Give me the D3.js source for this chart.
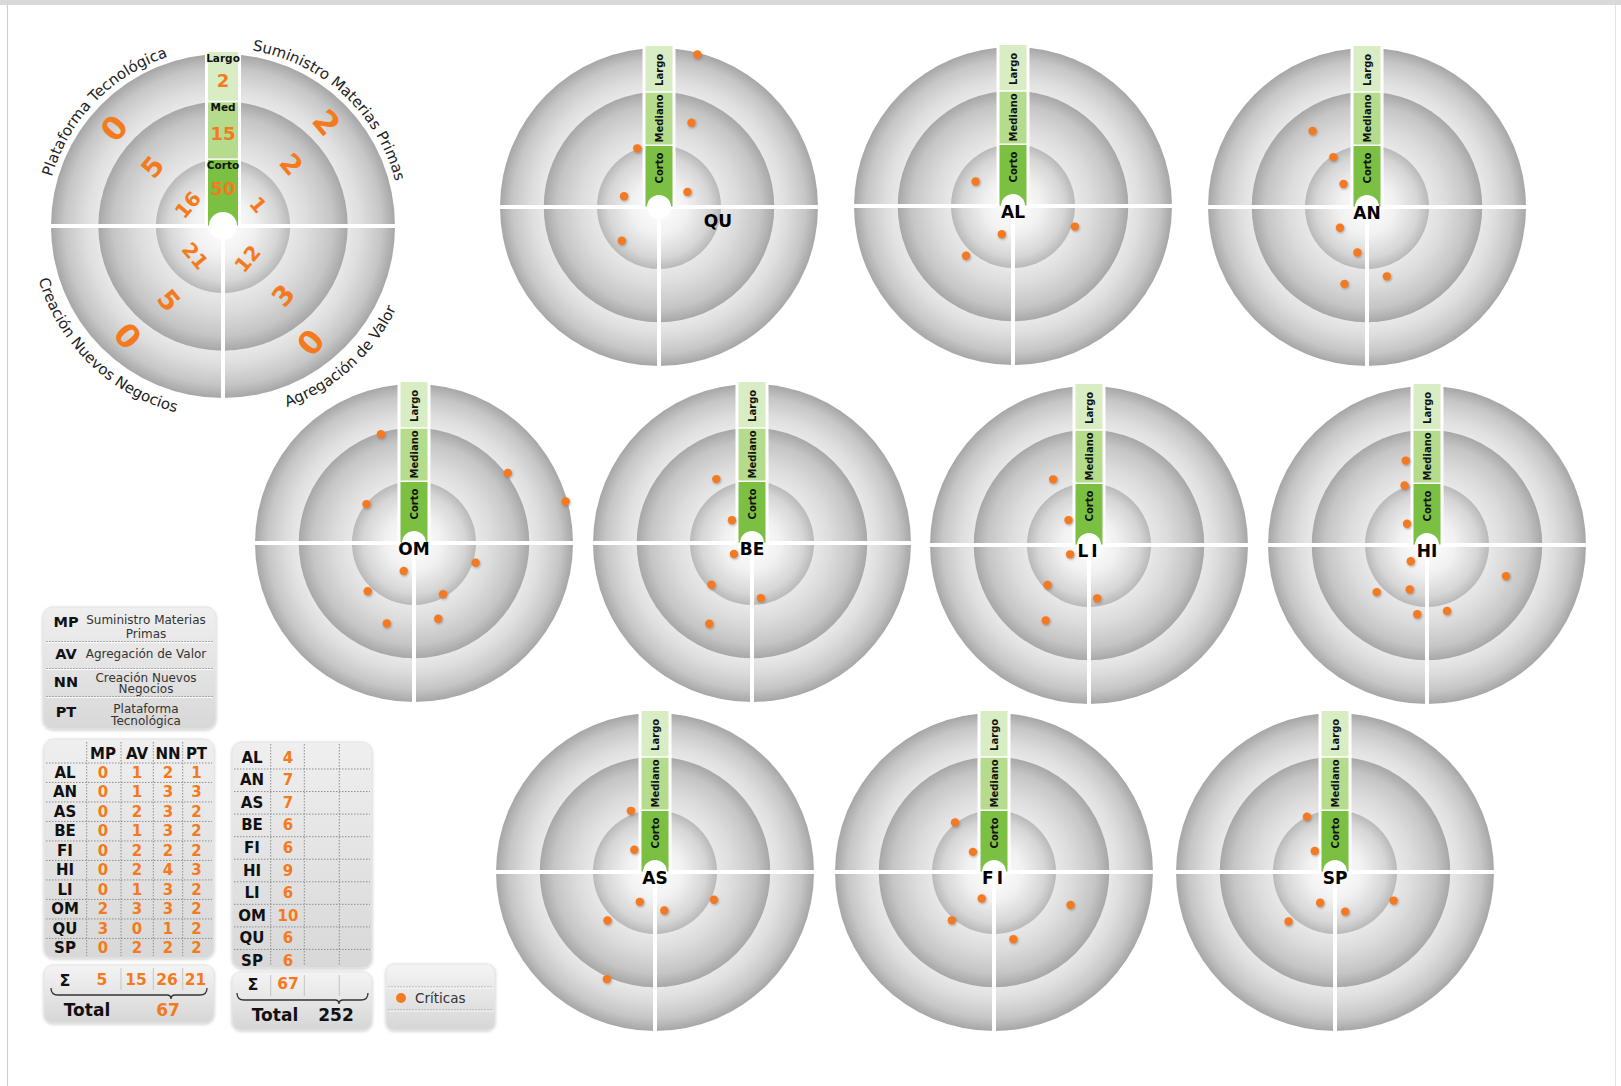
<!DOCTYPE html>
<html><head><meta charset="utf-8">
<script src="https://cdn.jsdelivr.net/npm/d3@7"></script>
<style>
html,body{margin:0;padding:0;background:#fff;}
svg{display:block;font-family:"DejaVu Sans",Verdana,sans-serif;}
</style></head><body>
<svg id="chart" width="1621" height="1086"></svg>
<script>
// ---------------- DATA ----------------
const categories = ["MP","AV","NN","PT"];
const categoryNames = ["Suministro Materias Primas","Agregación de Valor","Creación Nuevos Negocios","Plataforma Tecnológica"];
const categoryNameLines = [["Suministro Materias","Primas"],["Agregación de Valor"],["Creación Nuevos","Negocios"],["Plataforma","Tecnológica"]];
const horizons = ["Corto","Mediano","Largo"];
const horizonShort = ["Corto","Med","Largo"];
const horizonTotals = [50,15,2];
const summaryCorto = [1,12,21,16];
const summaryMediano = [2,3,5,5];
const summaryLargo = [2,0,0,0];

const units = ["AL","AN","AS","BE","FI","HI","LI","OM","QU","SP"];
const countMP = [0,0,0,0,0,0,0,2,3,0];
const countAV = [1,1,2,1,2,2,1,3,0,2];
const countNN = [2,3,3,3,2,4,3,3,1,2];
const countPT = [1,3,2,2,2,3,2,2,2,2];
const sumByCategory = [5,15,26,21];
const totalCategory = 67;
const criticas = [4,7,7,6,6,9,6,10,6,6];
const sumCriticas = 67;
const totalGeneral = 252;
const legendLabel = "Críticas";

// Critical points per unit: [angle in degrees clockwise from top, horizon level (0-1 Corto, 1-2 Mediano, 2-3 Largo)]
const radarOrder = ["QU","AL","AN","OM","BE","LI","HI","AS","FI","SP"];
const dotsQU = [[14.1,2.96],[21.1,1.53],[339.7,1.01],[62.1,0.52],[287.1,0.59],[227.7,0.81]];
const dotsAL = [[303.2,0.72],[201.6,0.49],[108.4,1.06],[223.3,1.12]];
const dotsAN = [[324.4,1.59],[326,0.97],[314.4,0.53],[232.5,0.55],[191.9,0.75],[164,1.19],[196.3,1.34]];
const dotsOM = [[343.1,1.97],[53.3,2.04],[74.7,2.96],[309.3,0.99],[107.7,1.05],[200.2,0.48],[223.8,1.09],[150.4,0.95],[198.7,1.43],[162.3,1.33]];
const dotsBE = [[330.8,1.21],[318.7,0.49],[238.7,0.34],[224.2,0.94],[170.9,0.9],[207.9,1.55]];
const dotsLI = [[331.4,1.24],[320.6,0.52],[243.7,0.34],[226,0.93],[171.3,0.87],[209.8,1.47]];
const dotsHI = [[345.9,1.47],[339.4,1.03],[316.8,0.47],[225,0.37],[201.2,0.77],[226.9,1.13],[188,1.15],[163.1,1.13],[111.5,1.43]];
const dotsAS = [[338.5,1.07],[317.1,0.49],[207,0.54],[166.4,0.64],[115.2,1.06],[224.4,1.11],[204.2,2.05]];
const dotsFI = [[321.8,1.02],[313.7,0.47],[204.9,0.47],[113.3,1.4],[221.1,1.04],[163.9,1.15]];
const dotsSP = [[333.1,1.0],[316.1,0.47],[205.8,0.55],[165.6,0.66],[116,1.06],[223.2,1.11]];
const dotsByUnit = {QU:dotsQU,AL:dotsAL,AN:dotsAN,OM:dotsOM,BE:dotsBE,LI:dotsLI,HI:dotsHI,AS:dotsAS,FI:dotsFI,SP:dotsSP};

// ---------------- LAYOUT ----------------
const layout = {
  centers: {QU:[659,207],AL:[1013,206],AN:[1367,207],OM:[414,543],BE:[752,543],LI:[1089,545],HI:[1427,545],AS:[655,872],FI:[994,872],SP:[1335,872]},
  R: 159, hole: 12, barW: 27,
  summary: {cx:223, cy:226, R:172, hole:14, barW:30},
  ringRatios: [0.39, 0.725, 1]
};
const ORANGE = "#f47a20";
const GREENS = ["#7bc043","#b5db8d","#d9edc5"];

const svg = d3.select("#chart");
const defs = svg.append("defs");
function radial(id, stops){
  const g = defs.append("radialGradient").attr("id",id).attr("cx","50%").attr("cy","50%").attr("r","50%");
  stops.forEach(([o,c])=>g.append("stop").attr("offset",o).attr("stop-color",c));
}
radial("gOuter", [[0.725,"#e8e8e8"],[0.8,"#dedede"],[0.92,"#c6c6c6"],[1,"#a6a6a6"]]);
radial("gMid", [[0.535,"#e8e8e8"],[0.68,"#dcdcdc"],[0.88,"#c5c5c5"],[1,"#a7a7a7"]]);
radial("gInner", [[0,"#ffffff"],[0.45,"#f1f1f1"],[0.82,"#d6d6d6"],[1,"#b9b9b9"]]);
function linear(id, c0, c1){
  const g = defs.append("linearGradient").attr("id",id).attr("x1",0).attr("y1",0).attr("x2",0).attr("y2",1);
  g.append("stop").attr("offset",0).attr("stop-color",c0);
  g.append("stop").attr("offset",1).attr("stop-color",c1);
}
linear("gBox","#efefef","#d8d8d8");
linear("gBox2","#f4f4f4","#d6d6d6");
const f = defs.append("filter").attr("id","dshadow").attr("x","-50%").attr("y","-50%").attr("width","200%").attr("height","200%");
f.append("feDropShadow").attr("dx",0.8).attr("dy",1.2).attr("stdDeviation",1).attr("flood-color","#555").attr("flood-opacity",0.45);
const fb = defs.append("filter").attr("id","boxshadow").attr("x","-10%").attr("y","-10%").attr("width","120%").attr("height","120%");
fb.append("feDropShadow").attr("dx",0).attr("dy",1).attr("stdDeviation",1.5).attr("flood-color","#999").attr("flood-opacity",0.5);

// page frame
svg.append("rect").attr("x",0).attr("y",0).attr("width",1621).attr("height",5).attr("fill","#d9d9d9");
svg.append("line").attr("x1",7.5).attr("x2",7.5).attr("y1",5).attr("y2",1086).attr("stroke","#cfcfcf").attr("stroke-width",1.2);
svg.append("line").attr("x1",1615.5).attr("x2",1615.5).attr("y1",5).attr("y2",1086).attr("stroke","#e2e2e2").attr("stroke-width",1);

const angleScale = d3.scaleLinear().domain([0,360]).range([0,2*Math.PI]);

function drawTarget(g, R, holeR, barW){
  const rs = layout.ringRatios.map(k=>k*R);
  g.append("circle").attr("r",R).attr("fill","url(#gOuter)");
  g.append("circle").attr("r",rs[1]).attr("fill","url(#gMid)");
  g.append("circle").attr("r",rs[0]).attr("fill","url(#gInner)");
  g.append("line").attr("x1",-R).attr("x2",R).attr("y1",0).attr("y2",0).attr("stroke","#fff").attr("stroke-width",4);
  g.append("line").attr("x1",0).attr("x2",0).attr("y1",0).attr("y2",R).attr("stroke","#fff").attr("stroke-width",4);
  g.append("rect").attr("x",-barW/2-3).attr("y",-R-3).attr("width",barW+6).attr("height",R+3).attr("fill","#fff");
  const segs = [[0, rs[0]], [rs[0], rs[1]], [rs[1], R+3]];
  segs.forEach(([a,b],i)=>g.append("rect").attr("x",-barW/2).attr("y",-b+1).attr("width",barW).attr("height",b-a-1.5).attr("fill",GREENS[i]));
  g.append("circle").attr("r",holeR).attr("fill","#fff");
  return rs;
}

// ---------------- SMALL RADARS ----------------
radarOrder.forEach(name=>{
  const [cx,cy] = layout.centers[name];
  const g = svg.append("g").attr("transform",`translate(${cx},${cy})`);
  const R = layout.R;
  const rs = drawTarget(g, R, layout.hole, layout.barW);
  const rScale = d3.scaleLinear().domain([0,1,2,3]).range([0, rs[0], rs[1], R]);
  const segMid = [(layout.hole+rs[0])/2+2, (rs[0]+rs[1])/2, (rs[1]+R)/2];
  horizons.forEach((h,i)=>{
    g.append("text").attr("transform",`translate(0,${-segMid[i]}) rotate(-90)`)
      .attr("text-anchor","middle").attr("dominant-baseline","central")
      .attr("font-size",10).attr("font-weight","bold").attr("fill","#111").text(h);
  });
  g.selectAll("circle.dot").data(dotsByUnit[name]).join("circle").attr("class","dot")
    .attr("cx",d=>rScale(d[1])*Math.sin(angleScale(d[0])))
    .attr("cy",d=>-rScale(d[1])*Math.cos(angleScale(d[0])))
    .attr("r",4.2).attr("fill",ORANGE).attr("filter","url(#dshadow)");
  const off = name==="QU" ? [59,14] : [0,6];
  g.append("text").attr("x",off[0]).attr("y",off[1]).attr("text-anchor","middle").attr("dominant-baseline","central")
    .attr("font-size",17).attr("font-weight","bold").attr("fill","#000")
    .attr("letter-spacing",(name==="FI"||name==="LI")?3:0).text(name);
});

// ---------------- SUMMARY RADAR ----------------
(function(){
  const S = layout.summary;
  const g = svg.append("g").attr("transform",`translate(${S.cx},${S.cy})`);
  const rs = drawTarget(g, S.R, S.hole, S.barW);
  const tops = [rs[0]+1, rs[1]+1, S.R+3];
  const bottoms = [S.hole, rs[0], rs[1]];
  horizonShort.forEach((h,i)=>{
    g.append("text").attr("x",0).attr("y",-tops[i]+7).attr("text-anchor","middle").attr("dominant-baseline","central")
      .attr("font-size",10.5).attr("font-weight","bold").attr("fill","#111").text(h);
    g.append("text").attr("x",0).attr("y",-(tops[i]+bottoms[i])/2+4).attr("text-anchor","middle").attr("dominant-baseline","central")
      .attr("font-size",18).attr("font-weight","bold").attr("fill",ORANGE).text(horizonTotals[i]);
  });
  const ringValues = [summaryCorto, summaryMediano, summaryLargo];
  const numAngles = [[59,143,223,301],[48,139,216,310],[45,143,221,312]];
  const numRadii = [41,92,146];
  const numSizes = [20,27,32];
  const rot = [50,-50,50,-50];
  ringValues.forEach((vals,hi)=>{
    vals.forEach((v,ci)=>{
      const a = angleScale(numAngles[hi][ci]);
      const x = numRadii[hi]*Math.sin(a), y = -numRadii[hi]*Math.cos(a);
      g.append("text").attr("transform",`translate(${x},${y}) rotate(${rot[ci]})`)
        .attr("text-anchor","middle").attr("dominant-baseline","central")
        .attr("font-size",numSizes[hi]).attr("font-weight","bold").attr("fill",ORANGE).text(v);
    });
  });
  function arcPath(r, a0, a1){
    const p0 = [r*Math.sin(angleScale(a0)), -r*Math.cos(angleScale(a0))];
    const p1 = [r*Math.sin(angleScale(a1)), -r*Math.cos(angleScale(a1))];
    const sweep = a1>a0 ? 1 : 0;
    return `M${p0[0]},${p0[1]} A${r},${r} 0 0 ${sweep} ${p1[0]},${p1[1]}`;
  }
  const titleMid = [42.5, 138, 224, 314];
  const titleTop = [true,false,false,true];
  categoryNames.forEach((name,i)=>{
    const top = titleTop[i];
    const r = top ? 178 : 192;
    const d = top ? arcPath(r, titleMid[i]-75, titleMid[i]+75) : arcPath(r, titleMid[i]+75, titleMid[i]-75);
    g.append("path").attr("id","tpath"+i).attr("d",d).attr("fill","none");
    g.append("text").attr("font-size",15).attr("fill","#222")
      .append("textPath").attr("href","#tpath"+i).attr("startOffset","50%").attr("text-anchor","middle").text(name);
  });
})();

// ---------------- TABLES ----------------
function box(x,y,w,h,rx,fill){
  svg.append("rect").attr("x",x).attr("y",y).attr("width",w).attr("height",h).attr("rx",rx)
    .attr("fill",fill||"url(#gBox)").attr("stroke","#e6e6e6").attr("stroke-width",1).attr("filter","url(#boxshadow)");
}
function sepLine(x1,x2,y){
  svg.append("line").attr("x1",x1).attr("x2",x2).attr("y1",y).attr("y2",y).attr("stroke","#a9a9a9").attr("stroke-width",1).attr("stroke-dasharray","2,1");
  svg.append("line").attr("x1",x1).attr("x2",x2).attr("y1",y+1).attr("y2",y+1).attr("stroke","#fafafa").attr("stroke-width",1);
}
function dotted(x1,y1,x2,y2){
  svg.append("line").attr("x1",x1).attr("x2",x2).attr("y1",y1).attr("y2",y2).attr("stroke","#8e8e8e").attr("stroke-width",1).attr("stroke-dasharray","1.5,1.5");
}
function txt(x,y,s,opt){
  opt = opt||{};
  return svg.append("text").attr("x",x).attr("y",y).attr("text-anchor",opt.anchor||"middle").attr("dominant-baseline","central")
    .attr("font-size",opt.size||14).attr("font-weight",opt.weight||"bold").attr("fill",opt.fill||"#111").text(s);
}

// Legend of abbreviations
box(43,607,173,122,10);
const legendRows = [622,653.5,682,712];
const descY = [[620,633.5],[653.5],[677.5,689],[708.5,721]];
[641.5,668.5,696.5].forEach(y=>sepLine(46,213,y));
categories.forEach((c,i)=>{
  txt(66,legendRows[i],c,{size:14.5});
  categoryNameLines[i].forEach((l,j)=>txt(146,descY[i][j],l,{size:12,weight:"normal",fill:"#333"}));
});

// Main count table
box(44,739,170,219,10);
const colX = [103,137,168,196.5];
const rowY = units.map((u,i)=>772.7+i*19.5);
[86.7,121,153.3,182.7].forEach(x=>dotted(x,742,x,956));
rowY.forEach((y,i)=>{ if(i>0) dotted(46,y-9.75,212,y-9.75); });
dotted(46,763,212,763);
categories.forEach((c,i)=>txt(colX[i],754,c,{size:15}));
const countCols = [countMP,countAV,countNN,countPT];
units.forEach((u,i)=>{
  txt(65,rowY[i],u,{size:15});
  countCols.forEach((col,j)=>txt(colX[j],rowY[i],col[i],{size:15,fill:ORANGE}));
});
box(44,965,170,58,9,"url(#gBox2)");
[121,153.3,182.7].forEach(x=>svg.append("line").attr("x1",x).attr("x2",x).attr("y1",968).attr("y2",990).attr("stroke","#c4c4c4").attr("stroke-width",1));
txt(65,980,"Σ",{size:16});
sumByCategory.forEach((v,j)=>txt(colX[j]-1,980,v,{size:15.5,fill:ORANGE}));
function brace(x1,x2,xm,y){
  const p = `M${x1},${y-7} Q${x1},${y} ${x1+7},${y} L${xm-4},${y} Q${xm},${y} ${xm},${y+4} Q${xm},${y} ${xm+4},${y} L${x2-7},${y} Q${x2},${y} ${x2},${y-7}`;
  svg.append("path").attr("d",p).attr("fill","none").attr("stroke","#333").attr("stroke-width",1.3);
}
brace(51,207,171,995);
txt(87,1010,"Total",{size:17});
txt(168,1010,totalCategory,{size:17,fill:ORANGE});

// Criticas table
box(232,742,140,226,10);
const rowY2 = units.map((u,i)=>757.7+i*22.56);
[270.7,304.3,339.3].forEach(x=>dotted(x,744,x,966));
rowY2.forEach((y,i)=>{ if(i>0) dotted(234,y-11.28,370,y-11.28); });
units.forEach((u,i)=>{
  txt(252,rowY2[i],u,{size:15});
  txt(288,rowY2[i],criticas[i],{size:15,fill:ORANGE});
});
box(232,972,140,58,9,"url(#gBox2)");
[270.7,304.3,339.3].forEach(x=>svg.append("line").attr("x1",x).attr("x2",x).attr("y1",975).attr("y2",996).attr("stroke","#c4c4c4").attr("stroke-width",1));
txt(253,984,"Σ",{size:16});
txt(288,984,sumCriticas,{size:15.5,fill:ORANGE});
brace(237,368,339,1000);
txt(275,1015,"Total",{size:17});
txt(336,1015,totalGeneral,{size:17,fill:"#111"});

// Legend Críticas
box(386,964,109,66,8,"url(#gBox2)");
sepLine(388,493,987);
sepLine(388,493,1010);
svg.append("circle").attr("cx",401).attr("cy",998).attr("r",5).attr("fill",ORANGE);
txt(415,998,legendLabel,{size:13.5,weight:"normal",fill:"#333",anchor:"start"});
</script>
</body></html>
